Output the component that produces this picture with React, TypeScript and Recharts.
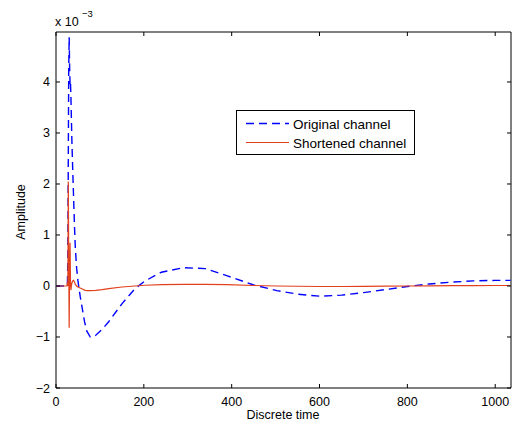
import React from "react";
import { LineChart, Line, XAxis, YAxis, ReferenceArea, Legend } from "recharts";

// Discrete time samples
const timeSamples = [0, 20, 25, 26, 27, 28, 29, 30, 31, 32, 33, 34, 35, 36, 38, 40, 42, 44, 47, 50, 55, 60, 65, 70, 78, 90, 105, 120, 150, 180, 203, 240, 290, 340, 390, 450, 503, 550, 600, 650, 700, 750, 800, 850, 900, 950, 1000, 1035];

// Amplitudes in units of 1e-3
const originalChannel = [0, 0, 0, 0.05, 0.6, 2.5, 4.3, 4.88, 4.3, 3.95, 4.0, 3.7, 3.3, 2.9, 2.3, 1.75, 1.2, 0.75, 0.35, 0.1, -0.2, -0.45, -0.7, -0.88, -1.0, -0.97, -0.85, -0.7, -0.35, -0.05, 0.1, 0.27, 0.36, 0.34, 0.2, 0.02, -0.09, -0.16, -0.2, -0.18, -0.13, -0.07, -0.01, 0.04, 0.075, 0.1, 0.11, 0.11];
const shortenedChannel = [0, 0, 0, 0.07, 0.0, 2.05, 0.5, -0.82, 0.3, 0.85, 0.1, -0.08, 0.0, 0.05, 0.1, 0.11, 0.08, 0.03, 0.0, -0.02, -0.04, -0.06, -0.08, -0.09, -0.09, -0.085, -0.07, -0.05, -0.02, 0.0, 0.015, 0.025, 0.03, 0.03, 0.025, 0.01, 0.0, -0.005, -0.01, -0.01, -0.008, -0.004, 0, 0.003, 0.006, 0.008, 0.01, 0.01];

const xTicks = [0, 200, 400, 600, 800, 1000];
const yTicks = [-2, -1, 0, 1, 2, 3, 4];
const seriesNames = ["Original channel", "Shortened channel"];
const xLabel = "Discrete time";
const yLabel = "Amplitude";

const X_MAX = 1036;
const Y_MIN = -2;
const Y_MAX = 4.98;

const W = 512;
const H = 426;
const PLOT_LEFT = 56;
const PLOT_RIGHT = 511;
const PLOT_TOP = 32;
const PLOT_BOTTOM = 388;
const TICK_LEN = 4;
const FONT = "'Liberation Sans', Arial, Helvetica, sans-serif";
const BLUE = "#0000ff";
const RED = "#e2401c";

const data = timeSamples.map((t, i) => ({
  t,
  original: originalChannel[i],
  shortened: shortenedChannel[i],
}));

const fmt = (v: number) => (v < 0 ? "\u2212" + Math.abs(v) : String(v));

const XTick = (props: any) => {
  const { x, payload } = props;
  return (
    <g>
      <line x1={x} x2={x} y1={PLOT_BOTTOM} y2={PLOT_BOTTOM - TICK_LEN} stroke="#000" strokeWidth={1} />
      <line x1={x} x2={x} y1={PLOT_TOP} y2={PLOT_TOP + TICK_LEN} stroke="#000" strokeWidth={1} />
      <text x={x} y={PLOT_BOTTOM + 18} textAnchor="middle" fontSize={12.5} fontFamily={FONT} fill="#000">
        {fmt(payload.value)}
      </text>
    </g>
  );
};

const YTick = (props: any) => {
  const { y, payload } = props;
  return (
    <g>
      <line x1={PLOT_LEFT} x2={PLOT_LEFT + TICK_LEN} y1={y} y2={y} stroke="#000" strokeWidth={1} />
      <line x1={PLOT_RIGHT} x2={PLOT_RIGHT - TICK_LEN} y1={y} y2={y} stroke="#000" strokeWidth={1} />
      <text x={PLOT_LEFT - 6} y={y + 4.5} textAnchor="end" fontSize={12.5} fontFamily={FONT} fill="#000">
        {fmt(payload.value)}
      </text>
    </g>
  );
};

const LegendBox = () => (
  <div
    style={{
      width: 179,
      height: 45,
      border: "1px solid #000",
      background: "#fff",
      boxSizing: "border-box",
      fontFamily: FONT,
      fontSize: 13.5,
      position: "relative",
    }}
  >
    <svg width={177} height={43} style={{ position: "absolute", left: 0, top: 0 }}>
      <line x1={9} x2={52} y1={12.5} y2={12.5} stroke={BLUE} strokeWidth={1.4} strokeDasharray="8 5" />
      <line x1={9} x2={52} y1={31.5} y2={31.5} stroke={RED} strokeWidth={1.2} />
      <text x={56} y={17.5} fontSize={13.5} fontFamily={FONT} fill="#000">{seriesNames[0]}</text>
      <text x={56} y={36.5} fontSize={13.5} fontFamily={FONT} fill="#000">{seriesNames[1]}</text>
    </svg>
  </div>
);

export default function App() {
  return (
    <div style={{ position: "absolute", left: 0, top: 0, width: W, height: H, background: "#fff" }}>
      <LineChart
        width={W}
        height={H}
        data={data}
        margin={{ top: PLOT_TOP, right: W - PLOT_RIGHT, bottom: 0, left: 0 }}
      >
        <XAxis
          dataKey="t"
          type="number"
          domain={[0, X_MAX]}
          ticks={xTicks}
          allowDataOverflow
          height={H - PLOT_BOTTOM}
          axisLine={false}
          tickLine={false}
          tickSize={0}
          tick={<XTick />}
          interval={0}
        />
        <YAxis
          type="number"
          domain={[Y_MIN, Y_MAX]}
          ticks={yTicks}
          allowDataOverflow
          width={PLOT_LEFT}
          axisLine={false}
          tickLine={false}
          tickSize={0}
          tick={<YTick />}
          interval={0}
        />
        <ReferenceArea x1={0} x2={X_MAX} y1={Y_MIN} y2={Y_MAX} fill="none" stroke="#000" strokeWidth={1} ifOverflow="visible" />
        <Line
          type="linear"
          dataKey="original"
          name={seriesNames[0]}
          stroke={BLUE}
          strokeWidth={1.4}
          strokeDasharray="8 5"
          dot={false}
          isAnimationActive={false}
        />
        <Line
          type="linear"
          dataKey="shortened"
          name={seriesNames[1]}
          stroke={RED}
          strokeWidth={1.2}
          dot={false}
          isAnimationActive={false}
        />
        <Legend
          layout="vertical"
          align="center"
          verticalAlign="middle"
          content={<LegendBox />}
          wrapperStyle={{ position: "absolute", left: 236, top: 110, width: 179, height: 45 }}
        />
        <text x={55} y={26} fontSize={12.5} fontFamily={FONT} fill="#000">
          x 10
        </text>
        <text x={82} y={17} fontSize={9.5} fontFamily={FONT} fill="#000">
          {"\u22123"}
        </text>
        <text x={283} y={419} textAnchor="middle" fontSize={12.5} fontFamily={FONT} fill="#000">
          {xLabel}
        </text>
        <text
          x={25}
          y={212}
          textAnchor="middle"
          fontSize={12.5}
          fontFamily={FONT}
          fill="#000"
          transform="rotate(-90 25 212)"
        >
          {yLabel}
        </text>
      </LineChart>
    </div>
  );
}
